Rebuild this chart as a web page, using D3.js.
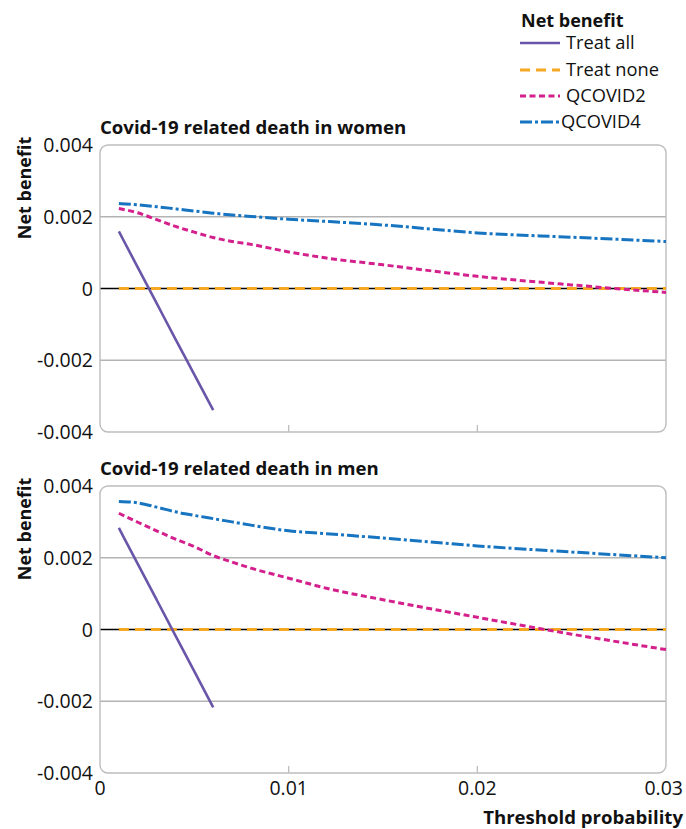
<!DOCTYPE html>
<html>
<head>
<meta charset="utf-8">
<script src="https://cdn.jsdelivr.net/npm/d3@7/dist/d3.min.js"></script>
<style>
  html, body { margin: 0; padding: 0; background: #fff; }
  svg { display: block; font-family: "Open Sans", "Noto Sans", sans-serif; }
</style>
</head>
<body>
<svg id="chart" width="686" height="829"></svg>
<script>
// Decision curve data: net benefit against threshold probability
const thresholds = [0.001, 0.002, 0.003, 0.004, 0.005, 0.006, 0.007, 0.008, 0.010, 0.012, 0.015, 0.020, 0.025, 0.030];
const treatAllThresholds = [0.001, 0.002, 0.003, 0.004, 0.005, 0.006];

const womenTreatAll = [0.00159, 0.00059, -0.00041, -0.00141, -0.00240, -0.00339];
const womenQcovid2 = [0.00223, 0.00211, 0.00192, 0.00173, 0.00157, 0.00142, 0.00131, 0.00123, 0.00102, 0.00085, 0.00066, 0.00034, 0.00010, -0.00011];
const womenQcovid4 = [0.00237, 0.00233, 0.00228, 0.00222, 0.00216, 0.00210, 0.00205, 0.00201, 0.00193, 0.00187, 0.00177, 0.00155, 0.00143, 0.00131];

const menTreatAll = [0.00283, 0.00183, 0.00083, -0.00017, -0.00117, -0.00217];
const menQcovid2 = [0.00324, 0.00299, 0.00275, 0.00252, 0.00231, 0.00206, 0.00188, 0.00171, 0.00143, 0.00115, 0.00083, 0.00034, -0.00013, -0.00056];
const menQcovid4 = [0.00357, 0.00353, 0.00341, 0.00328, 0.00318, 0.00309, 0.00300, 0.00291, 0.00275, 0.00267, 0.00255, 0.00233, 0.00216, 0.00200];

const yTicks = [0.004, 0.002, 0, -0.002, -0.004];
const yTickLabels = ["0.004", "0.002", "0", "-0.002", "-0.004"];
const xTicks = [0, 0.01, 0.02, 0.03];
const xTickLabels = ["0", "0.01", "0.02", "0.03"];

const seriesNames = ["Treat all", "Treat none", "QCOVID2", "QCOVID4"];
const panelTitles = ["Covid-19 related death in women", "Covid-19 related death in men"];

const colors = {
  "Treat all": "#6a56a8",
  "Treat none": "#f7a823",
  "QCOVID2": "#d4208d",
  "QCOVID4": "#1674c0"
};
const dashes = {
  "Treat all": null,
  "Treat none": "10 6",
  "QCOVID2": "6 3.5",
  "QCOVID4": "12 3 3 3"
};
const widths = {
  "Treat all": 2.6,
  "Treat none": 3,
  "QCOVID2": 3,
  "QCOVID4": 3
};

const svg = d3.select("#chart");
const left = 100, right = 666;
const x = d3.scaleLinear().domain([0, 0.03]).range([left, right]);

const panels = [
  { title: panelTitles[0], top: 145, treatAll: womenTreatAll, q2: womenQcovid2, q4: womenQcovid4, showX: false },
  { title: panelTitles[1], top: 486, treatAll: menTreatAll, q2: menQcovid2, q4: menQcovid4, showX: true }
];
const panelH = 287;

panels.forEach(p => {
  const y = d3.scaleLinear().domain([-0.004, 0.004]).range([p.top + panelH, p.top]);
  const g = svg.append("g");

  // Panel title
  g.append("text")
    .attr("x", left).attr("y", p.top - 11)
    .attr("font-size", 18.6).attr("font-weight", 700).attr("fill", "#111")
    .text(p.title);

  // Y axis title
  g.append("text")
    .attr("transform", `translate(31,${p.top + 43}) rotate(-90)`)
    .attr("text-anchor", "middle")
    .attr("font-size", 18).attr("font-weight", 700).attr("fill", "#111")
    .text("Net benefit");

  // Grid lines
  g.selectAll("line.grid").data([0.002, -0.002]).enter().append("line")
    .attr("x1", left).attr("x2", right)
    .attr("y1", d => y(d)).attr("y2", d => y(d))
    .attr("stroke", "#b3b3b3").attr("stroke-width", 1.3);
  g.append("line")
    .attr("x1", left).attr("x2", right)
    .attr("y1", y(0)).attr("y2", y(0))
    .attr("stroke", "#000").attr("stroke-width", 1.3);

  // Rounded frame
  g.append("rect")
    .attr("x", left).attr("y", p.top)
    .attr("width", right - left).attr("height", panelH)
    .attr("rx", 8).attr("ry", 8)
    .attr("fill", "none").attr("stroke", "#bdbdbd").attr("stroke-width", 1.4);

  // Inner x ticks
  g.selectAll("line.xt").data([0.01, 0.02]).enter().append("line")
    .attr("x1", d => x(d)).attr("x2", d => x(d))
    .attr("y1", p.top + panelH - 7).attr("y2", p.top + panelH)
    .attr("stroke", "#bdbdbd").attr("stroke-width", 1.3);

  // Y tick labels
  g.selectAll("text.yt").data(yTicks).enter().append("text")
    .attr("x", 93).attr("y", d => y(d)).attr("dy", "0.36em")
    .attr("text-anchor", "end")
    .attr("font-size", 19.5).attr("fill", "#111")
    .text((d, i) => yTickLabels[i]);

  // X tick labels
  if (p.showX) {
    g.selectAll("text.xtl").data(xTicks).enter().append("text")
      .attr("x", d => x(d)).attr("y", p.top + panelH + 22)
      .attr("text-anchor", d => d === 0.03 ? "end" : "middle")
      .attr("dx", d => d === 0.03 ? 17 : 0)
      .attr("font-size", 19.5).attr("fill", "#111")
      .text((d, i) => xTickLabels[i]);
    g.append("text")
      .attr("x", 683).attr("y", 824)
      .attr("text-anchor", "end")
      .attr("font-size", 18.6).attr("font-weight", 700).attr("fill", "#111")
      .text("Threshold probability");
  }

  // Series lines
  const series = [
    { name: "Treat none", xs: thresholds, ys: thresholds.map(() => 0) },
    { name: "QCOVID4", xs: thresholds, ys: p.q4 },
    { name: "QCOVID2", xs: thresholds, ys: p.q2 },
    { name: "Treat all", xs: treatAllThresholds, ys: p.treatAll }
  ];
  series.forEach(s => {
    g.append("path")
      .attr("d", d3.line().x((d, i) => x(s.xs[i])).y(d => y(d)).curve(d3.curveMonotoneX)(s.ys))
      .attr("fill", "none")
      .attr("stroke", colors[s.name])
      .attr("stroke-width", widths[s.name])
      .attr("stroke-dasharray", dashes[s.name]);
  });
});

// Legend
const legend = svg.append("g");
legend.append("text")
  .attr("x", 521).attr("y", 27)
  .attr("font-size", 18).attr("font-weight", 700).attr("fill", "#111")
  .text("Net benefit");
const legendY = [43, 70, 96, 122];
seriesNames.forEach((name, i) => {
  legend.append("line")
    .attr("x1", 520).attr("x2", 560)
    .attr("y1", legendY[i]).attr("y2", legendY[i])
    .attr("stroke", colors[name])
    .attr("stroke-width", widths[name])
    .attr("stroke-dasharray", dashes[name]);
  legend.append("text")
    .attr("x", name === "QCOVID4" ? 561 : 566).attr("y", legendY[i]).attr("dy", "0.35em")
    .attr("font-size", 18.3).attr("fill", "#111")
    .text(name);
});
</script>
</body>
</html>
